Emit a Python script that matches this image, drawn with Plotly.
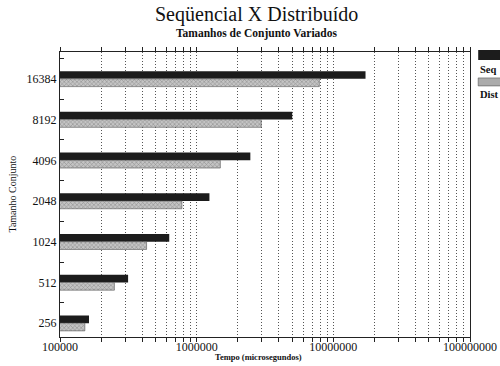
import plotly.graph_objects as go

# Set sizes (categories) and run times in microseconds
tamanhos = ["256", "512", "1024", "2048", "4096", "8192", "16384"]
tempo_seq = [163000, 315000, 630000, 1240000, 2470000, 5000000, 17200000]
tempo_dist = [152000, 250000, 430000, 780000, 1490000, 2970000, 7900000]

serif = "Liberation Serif, Times New Roman, serif"
pos = list(range(len(tamanhos)))
bar_w = 0.19
grid_dash = "1px,2px"

fig = go.Figure()
fig.add_trace(go.Bar(
    name="Seq", y=pos, x=tempo_seq, orientation="h",
    width=bar_w, offset=0.0,
    marker=dict(color="#1c1c1c", line=dict(width=0)),
))
fig.add_trace(go.Bar(
    name="Dist", y=pos, x=tempo_dist, orientation="h",
    width=bar_w, offset=-bar_w,
    marker=dict(color="#c4c4c4", line=dict(width=0.6, color="#555"),
                pattern=dict(shape="x", size=3, solidity=0.35, fgcolor="#5a5a5a")),
))

fig.update_layout(
    width=500, height=366,
    margin=dict(l=60, r=30, t=52, b=29),
    paper_bgcolor="white", plot_bgcolor="white",
    showlegend=False,
    barmode="overlay",
    font=dict(family=serif, color="#111"),
    xaxis=dict(
        type="log", range=[5, 8], automargin=False,
        tickvals=[1e5, 1e6, 1e7, 1e8],
        ticktext=["100000", "1000000", "10000000", "100000000"],
        tickfont=dict(size=12, family=serif),
        ticklabelstandoff=-6,
        showline=True, linecolor="#222", linewidth=1.2, mirror="allticks",
        ticks="outside", ticklen=4, tickcolor="#222",
        showgrid=True, gridcolor="#555", griddash=grid_dash, gridwidth=1,
        minor=dict(dtick="D1", showgrid=True, gridcolor="#555", griddash=grid_dash,
                   ticks="outside", ticklen=4, tickcolor="#222"),
        zeroline=False,
    ),
    yaxis=dict(
        range=[-0.34, 6.66], automargin=False,
        tickvals=pos, ticktext=tamanhos,
        tickfont=dict(size=12, family=serif),
        showline=True, linecolor="#222", linewidth=1.2, mirror=True,
        ticks="", showgrid=False, zeroline=False,
        minor=dict(tick0=0.5, dtick=1, ticks="inside", ticklen=4, tickcolor="#222"),
    ),
)

# Titles
fig.add_annotation(text="Seqüencial X Distribuído", x=0.48, y=1.133, xref="paper", yref="paper",
                   yanchor="middle", showarrow=False,
                   font=dict(size=20, family=serif, color="#111"))
fig.add_annotation(text="<b>Tamanhos de Conjunto Variados</b>", x=0.48, y=1.066, xref="paper",
                   yref="paper", yanchor="middle", showarrow=False,
                   font=dict(size=11.5, family=serif, color="#111"))
fig.add_annotation(text="<b>Tempo (microsegundos)</b>", x=0.483, y=-0.07, xref="paper",
                   yref="paper", yanchor="middle", showarrow=False,
                   font=dict(size=8.5, family=serif, color="#111"))
fig.add_annotation(text="Tamanho Conjunto", x=-0.117, y=0.5, xref="paper",
                   yref="paper", xanchor="center", yanchor="middle", showarrow=False,
                   textangle=-90, font=dict(size=10, family=serif, color="#111"))

# Legend: swatch above each label
fig.add_shape(type="rect", xref="paper", yref="paper", x0=1.02, x1=1.12, y0=0.972, y1=1.007,
              fillcolor="#1c1c1c", line=dict(width=0))
fig.add_annotation(text="<b>Seq</b>", x=1.02, y=0.965, xref="paper", yref="paper",
                   xanchor="left", yanchor="top", showarrow=False,
                   font=dict(size=10.5, family=serif, color="#111"))
fig.add_shape(type="rect", xref="paper", yref="paper", x0=1.02, x1=1.12, y0=0.881, y1=0.909,
              fillcolor="#ababab", line=dict(width=0.6, color="#555"))
fig.add_annotation(text="<b>Dist</b>", x=1.02, y=0.877, xref="paper", yref="paper",
                   xanchor="left", yanchor="top", showarrow=False,
                   font=dict(size=10.5, family=serif, color="#111"))

fig.write_html("out.html")
